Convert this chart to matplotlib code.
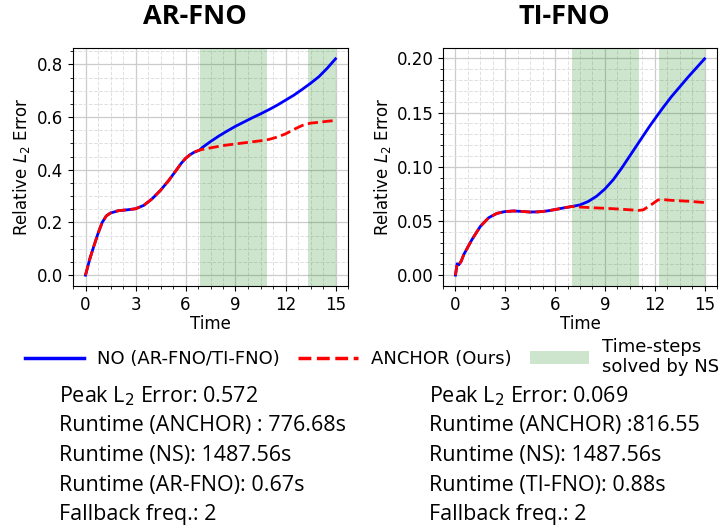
import matplotlib
matplotlib.use("Agg")
import matplotlib.pyplot as plt
from matplotlib.lines import Line2D
from matplotlib.patches import Patch

# AR-FNO panel
t_ar = [0, 0.25, 0.5, 0.75, 1.0, 1.25, 1.5, 2, 2.5, 3, 3.5, 4, 4.5, 5, 5.5, 5.75, 6, 6.25,
        6.5, 6.85, 7.0, 7.5, 8, 8.5, 9, 9.5, 10, 10.5, 11, 11.5, 12, 12.5, 13, 13.5, 14,
        14.5, 15]
no_ar = [0, 0.06, 0.11, 0.158, 0.2, 0.225, 0.236, 0.245, 0.248, 0.252, 0.265, 0.29, 0.322,
         0.36, 0.403, 0.425, 0.443, 0.456, 0.466, 0.475, 0.484, 0.507, 0.528, 0.547, 0.565,
         0.581, 0.597, 0.612, 0.628, 0.645, 0.664, 0.683, 0.705, 0.728, 0.753, 0.785, 0.821]
anchor_ar = [0, 0.06, 0.11, 0.158, 0.2, 0.225, 0.236, 0.245, 0.248, 0.252, 0.265, 0.29, 0.322,
             0.36, 0.403, 0.425, 0.443, 0.456, 0.466, 0.475, 0.477, 0.483, 0.489, 0.494,
             0.498, 0.502, 0.506, 0.51, 0.515, 0.524, 0.536, 0.553, 0.568, 0.577, 0.58,
             0.584, 0.587]
ns_ar = [(6.85, 10.9), (13.35, 15.0)]

# TI-FNO panel
t_ti = [0, 0.1, 0.2, 0.35, 0.5, 0.75, 1, 1.5, 2, 2.5, 3, 3.5, 4, 4.5, 5, 5.5, 6, 6.5, 7,
        7.5, 8, 8.5, 9, 9.5, 10, 10.5, 11, 11.3, 11.7, 12.2, 12.5, 13, 13.5, 14, 14.5, 15]
no_ti = [0, 0.0105, 0.0095, 0.013, 0.019, 0.026, 0.033, 0.045, 0.053, 0.057, 0.0587, 0.0592,
         0.0588, 0.0582, 0.0584, 0.0592, 0.0605, 0.062, 0.0633, 0.0648, 0.068, 0.0728, 0.0795,
         0.088, 0.0985, 0.11, 0.1215, 0.1284, 0.1375, 0.1482, 0.1545, 0.1645, 0.1735, 0.1825,
         0.191, 0.1995]
anchor_ti = [0, 0.0105, 0.0095, 0.013, 0.019, 0.026, 0.033, 0.045, 0.053, 0.057, 0.0587,
             0.0592, 0.0588, 0.0582, 0.0584, 0.0592, 0.0605, 0.062, 0.0633, 0.0628, 0.0624,
             0.062, 0.0617, 0.0613, 0.0608, 0.0603, 0.0597, 0.0602, 0.064, 0.0694, 0.0697,
             0.069, 0.0686, 0.0682, 0.0676, 0.067]
ns_ti = [(7.0, 11.03), (12.28, 15.0)]

titles = ["AR-FNO", "TI-FNO"]
xticks = [0, 3, 6, 9, 12, 15]

info_ar = ["Peak L$_2$ Error: 0.572", "Runtime (ANCHOR) : 776.68s", "Runtime (NS): 1487.56s",
           "Runtime (AR-FNO): 0.67s", "Fallback freq.: 2"]
info_ti = ["Peak L$_2$ Error: 0.069", "Runtime (ANCHOR) :816.55", "Runtime (NS): 1487.56s",
           "Runtime (TI-FNO): 0.88s", "Fallback freq.: 2"]

W, H = 720, 531
fig = plt.figure(figsize=(7.2, 5.31), dpi=100)

panels = [
    (t_ar, no_ar, anchor_ar, ns_ar, 73, 348, 194.5, -0.149, info_ar, 59),
    (t_ti, no_ti, anchor_ti, ns_ti, 443, 717, 564.5, -0.182, info_ti, 429),
]

for i, (t, no, anc, spans, x0, x1, tx, ylx, info, ix) in enumerate(panels):
    ax = fig.add_axes([x0 / W, 1 - 286 / H, (x1 - x0) / W, 238 / H])
    for a, b in spans:
        ax.axvspan(a, b, color="green", alpha=0.2, lw=0)
    ax.plot(t, no, color="blue", lw=2)
    ax.plot(t, anc, color="red", lw=2, ls="--")
    ax.set_xticks(xticks)
    ax.minorticks_on()
    ax.grid(True, which="major", color="#cccccc", lw=0.9)
    ax.grid(True, which="minor", color="#e0e0e0", lw=0.7, ls="--")
    ax.set_axisbelow(True)
    ax.tick_params(labelsize=12)
    ax.set_xlabel("Time", fontsize=12, labelpad=1)
    ax.set_ylabel("Relative $L_2$ Error", fontsize=12)
    ax.yaxis.set_label_coords(ylx, 0.5)
    if i == 1:
        ax.set_yticks([0, 0.05, 0.10, 0.15, 0.20])
        ax.set_yticklabels(["0.00", "0.05", "0.10", "0.15", "0.20"])
    fig.text(tx / W, 1 - 24 / H, titles[i], fontsize=19.5, fontweight="bold",
             family="Open Sans", ha="center", va="baseline")
    for k, line in enumerate(info):
        fig.text(ix / W, 1 - (402 + 29.5 * k) / H, line, fontsize=15.5,
                 family="Open Sans", ha="left", va="baseline")

handles = [
    Line2D([], [], color="blue", lw=2.5),
    Line2D([], [], color="red", lw=2.5, ls="--"),
    Patch(facecolor="green", alpha=0.2, edgecolor="none"),
]
labels = ["NO (AR-FNO/TI-FNO)", "ANCHOR (Ours)", "Time-steps\nsolved by NS"]
fig.legend(handles, labels, loc="center", bbox_to_anchor=(372 / W, 1 - 357 / H), ncol=3,
           frameon=False, fontsize=13, handlelength=3.27, handletextpad=0.72,
           columnspacing=1.05, labelspacing=0.2)

fig.savefig("out.png", dpi=100)
